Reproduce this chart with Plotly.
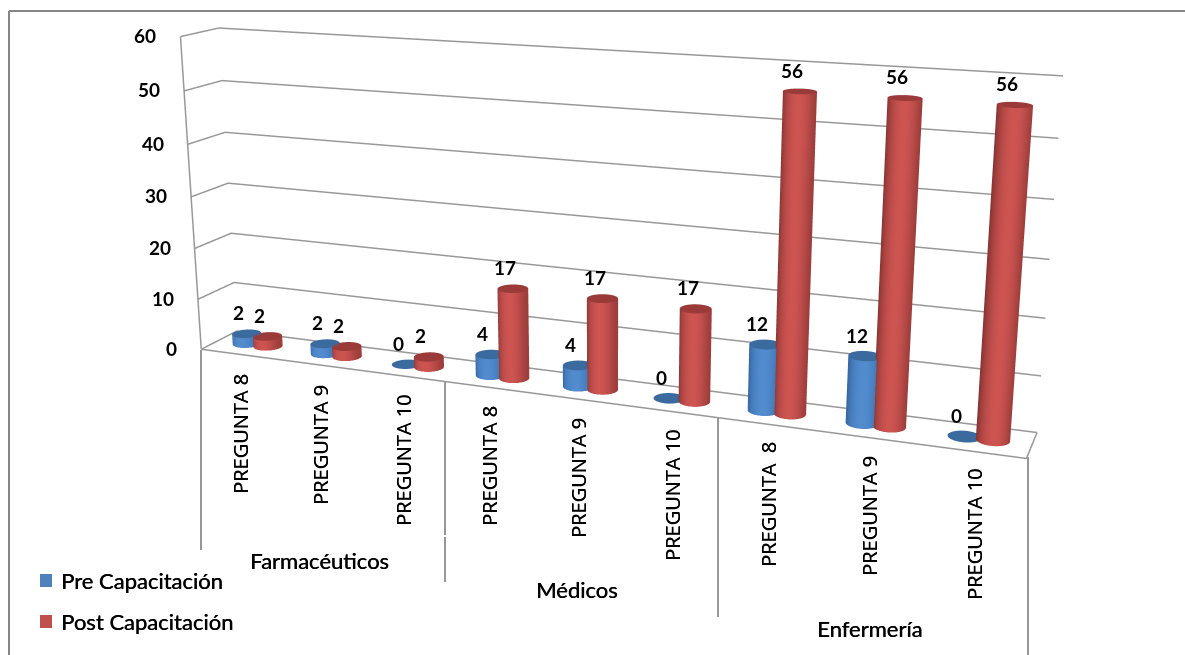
import numpy as np
import plotly.graph_objects as go

# Chart data
preguntas = ["PREGUNTA 8", "PREGUNTA 9", "PREGUNTA 10", "PREGUNTA 8", "PREGUNTA 9",
             "PREGUNTA 10", "PREGUNTA  8", "PREGUNTA 9", "PREGUNTA 10"]
grupos = ["Farmacéuticos", "Médicos", "Enfermería"]
pre_capacitacion = [2, 2, 0, 4, 4, 0, 12, 12, 0]
post_capacitacion = [2, 2, 2, 17, 17, 17, 56, 56, 56]
ticks_valor = [0, 10, 20, 30, 40, 50, 60]

# Canvas geometry: the 3D scene is taller than the page and shifted upwards so
# that its optical centre sits in the upper part of the window.
FIG_W, FIG_H, SHIFT = 1206, 1439, 441
FONT_NUM = dict(family="Lato", weight=700, size=19, color="#000000")
FONT_TXT = dict(family="Lato", size=22, color="#000000", shadow="0.5px 0 0 #000000")
FONT_ROT = dict(family="Open Sans", size=20, color="#000000", shadow="0.4px 0 0 #000000")
GRID = "#989898"


def px(x):
    return x / FIG_W


def py(y):
    return 1 - (y + SHIFT) / FIG_H


# Bar geometry in axis units
RX, RY, OFFSET, DEPTH = 0.16, 0.22, 0.135, 0.5
theta = np.linspace(0, 2 * np.pi, 97)
BLUE = dict(scale=[[0, "#2F5E97"], [1, "#528CCF"]], top="#3B6A9F")
RED = dict(scale=[[0, "#7E302E"], [1, "#CD5451"]], top="#9A3B39")


def side_shade(t):
    u = np.cos(t)
    return np.where(u < 0.2, 1 - ((u - 0.2) / 1.2) ** 2, 1 - 0.6 * ((u - 0.2) / 0.8) ** 2)


def cylinder(fig, xc, value, style):
    flat = dict(ambient=1, diffuse=0, specular=0, roughness=1, fresnel=0)
    no_contours = dict(x=dict(show=False, highlight=False), y=dict(show=False, highlight=False),
                       z=dict(show=False, highlight=False))
    x = xc + RX * np.cos(theta)
    y = DEPTH + RY * np.sin(theta)
    if value > 0:
        zz = np.array([np.zeros_like(theta), np.full_like(theta, value, dtype=float)])
        shade = np.array([side_shade(theta), side_shade(theta)])
        fig.add_trace(go.Surface(x=np.array([x, x]), y=np.array([y, y]), z=zz, surfacecolor=shade,
                                 colorscale=style["scale"], cmin=0, cmax=1, showscale=False,
                                 lighting=flat, contours=no_contours, hoverinfo="skip"))
    xx = np.array([np.full_like(x, xc), x])
    yy = np.array([np.full_like(y, DEPTH), y])
    fig.add_trace(go.Surface(x=xx, y=yy, z=np.full_like(xx, value, dtype=float),
                             surfacecolor=np.zeros_like(xx),
                             colorscale=[[0, style["top"]], [1, style["top"]]], cmin=0, cmax=1,
                             showscale=False, lighting=flat, contours=no_contours, hoverinfo="skip"))


def grid_line(fig, x, y, z):
    fig.add_trace(go.Scatter3d(x=x, y=y, z=z, mode="lines", line=dict(color=GRID, width=3),
                               hoverinfo="skip", showlegend=False))


fig = go.Figure()
for v in ticks_valor:
    grid_line(fig, [0, 0, 9], [0, 1, 1], [v, v, v])
grid_line(fig, [0, 0], [0, 0], [0, 60])
grid_line(fig, [0, 9, 9], [0, 0, 1], [0, 0, 0])

scene_notes = []
for i, (a, b) in enumerate(zip(pre_capacitacion, post_capacitacion)):
    centre = i + 0.5
    cylinder(fig, centre - OFFSET, a, BLUE)
    cylinder(fig, centre + OFFSET, b, RED)
    for xc, v in ((centre - OFFSET, a), (centre + OFFSET, b)):
        scene_notes.append(dict(x=xc, y=DEPTH, z=v, text=str(v), showarrow=False, xshift=-8, yshift=21,
                                xanchor="center", yanchor="middle", font=FONT_NUM))
for v in ticks_valor:
    scene_notes.append(dict(x=0, y=0, z=v, text=str(v), showarrow=False, xanchor="right", yanchor="middle",
                            xshift=-22, yshift=1, font=FONT_NUM))

# Flat annotations below the floor
label_x = [240, 320, 403, 489, 578, 672, 768, 870, 974]
label_y = [434, 445, 461, 466, 478, 496, 505, 516, 535]
notes = []
for t, x, y in zip(preguntas, label_x, label_y):
    notes.append(dict(text=t, x=px(x), y=py(y), textangle=-90, xanchor="center", yanchor="middle",
                      font=FONT_ROT))
for t, x, y in zip(grupos, [319, 577, 869], [560, 589, 628]):
    notes.append(dict(text=t, x=px(x), y=py(y), xanchor="center", yanchor="middle", font=FONT_TXT))
notes.append(dict(text="Pre Capacitación", x=px(59), y=py(580), xanchor="left", yanchor="middle", font=FONT_TXT))
notes.append(dict(text="Post Capacitación", x=px(59), y=py(621), xanchor="left", yanchor="middle", font=FONT_TXT))
for n in notes:
    n.update(xref="paper", yref="paper", showarrow=False)


def seg(x0, y0, x1, y1, color, width=2):
    return dict(type="line", xref="paper", yref="paper", x0=px(x0), y0=py(y0), x1=px(x1), y1=py(y1),
                line=dict(color=color, width=width))


def box(x0, y0, x1, y1, color):
    return dict(type="rect", xref="paper", yref="paper", x0=px(x0), y0=py(y0), x1=px(x1), y1=py(y1),
                fillcolor=color, line=dict(width=0))


shapes = [
    seg(9, 11, 9, 655, "#868686"), seg(9, 11, 1185, 11, "#868686"),
    seg(201, 350, 201, 550, GRID), seg(445, 382, 445, 535, GRID), seg(445, 537, 445, 582, GRID),
    seg(718, 417, 718, 617, GRID), seg(1028, 457, 1028, 655, GRID),
    box(40, 574, 52, 587, "#4F81BD"), box(40, 615, 52, 628, "#C0504D"),
]

fig.update_layout(
    width=FIG_W, height=FIG_H, margin=dict(l=0, r=0, t=0, b=0), showlegend=False,
    paper_bgcolor="white", annotations=notes, shapes=shapes,
    scene=dict(
        domain=dict(x=[0, 1], y=[0, 1]), aspectmode="manual",
        aspectratio=dict(x=1.2961, y=0.1039, z=0.4996),
        xaxis=dict(visible=False, range=[0, 9]), yaxis=dict(visible=False, range=[0, 1]),
        zaxis=dict(visible=False, range=[0, 60]),
        camera=dict(eye=dict(x=0.9035, y=-2.2810, z=0.6167), center=dict(x=0.0352, y=-0.0388, z=-0.0657),
                    up=dict(x=0.0033, y=0, z=1), projection=dict(type="perspective")),
        annotations=scene_notes,
    ),
)
fig.write_html(
    "out.html",
    post_script=f"var g=document.getElementById('{{plot_id}}');g.style.marginTop='-{SHIFT}px';"
                "document.documentElement.style.overflow='hidden';document.body.style.overflow='hidden';",
)
